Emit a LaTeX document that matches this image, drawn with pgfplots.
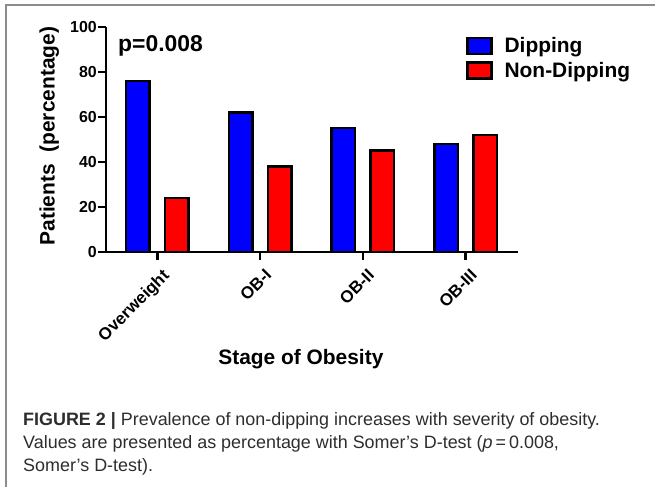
\documentclass[border=0pt]{standalone}
\usepackage{fontspec}
\setmainfont{Liberation Sans}
\usepackage{pgfplots}
\pgfplotsset{compat=1.18}
\definecolor{barblue}{RGB}{0,0,255}
\definecolor{barred}{RGB}{255,0,0}
\definecolor{framegray}{RGB}{140,140,140}
\definecolor{captext}{RGB}{45,45,45}
\newcommand{\fs}[1]{\fontsize{#1}{#1}\selectfont}
\begin{document}
\begin{tikzpicture}
\useasboundingbox (-106bp,-235bp) rectangle (549bp,252bp);
\draw[framegray, line width=1.5bp] (-100bp,-240bp) -- (-100bp,247bp) -- (560bp,247bp);
\begin{axis}[
  at={(0,0)}, anchor=south west,
  scale only axis, width=412bp, height=225bp,
  xmin=-0.5, xmax=3.51, ymin=0, ymax=100,
  axis x line*=bottom, axis y line*=left,
  axis line style={-, line width=2.5bp, black},
  tick align=outside, major tick length=8bp,
  tick style={line width=2.5bp, black},
  xtick={0,1,2,3},
  xticklabels={Overweight,OB-I,OB-II,OB-III},
  ytick={0,20,40,60,80,100},
  /pgf/number format/assume math mode=true,
  yticklabel style={font=\bfseries\fs{16}, inner sep=1bp},
  xticklabel style={font=\bfseries\fs{17}, yshift=-5bp, xshift=4bp, rotate=45, anchor=north east, inner sep=2bp},
  ylabel={Patients\ \ (percentage)},
  ylabel style={font=\bfseries\fs{21}, at={(axis description cs:-0.138,0.515)}, anchor=center},
  xlabel={Stage of Obesity},
  xlabel style={font=\bfseries\fs{21}, at={(axis description cs:0.473,-0.502)}, anchor=base},
  ybar=15.5bp, bar width=23.5bp,
  legend style={draw=none, fill=none, at={(axis description cs:0.874,0.956)}, anchor=north west,
    inner sep=0pt, outer sep=0pt, font=\bfseries\fs{21}, row sep=6bp,
    nodes={inner sep=0pt},
    /tikz/every odd column/.append style={column sep=12bp}},
  legend cell align=left,
  legend image code/.code={\draw[#1, line width=2.5bp] (0bp,-8bp) rectangle (24bp,8bp);},
]
\addplot[fill=barblue, draw=black, line width=2.5bp] coordinates {(0,76) (1,62) (2,55) (3,48)};
\addplot[fill=barred, draw=black, line width=2.5bp] coordinates {(0,24) (1,38) (2,45) (3,52)};
\legend{Dipping,Non-Dipping}
\node[anchor=base west, font=\bfseries\fs{23}, inner sep=0pt] at (axis description cs:0.029,0.893) {p=0.008};
\end{axis}
\begin{scope}[every node/.style={anchor=base west, inner sep=0pt, font=\fs{18}, text=captext}]
\node at (-83bp,-173bp) {\textbf{FIGURE 2 |} Prevalence of non-dipping increases with severity of obesity.};
\node at (-83bp,-196bp) {Values are presented as percentage with Somer’s D-test (\textit{p}\,=\,0.008,};
\node at (-83bp,-219bp) {Somer’s D-test).};
\end{scope}
\end{tikzpicture}
\end{document}
